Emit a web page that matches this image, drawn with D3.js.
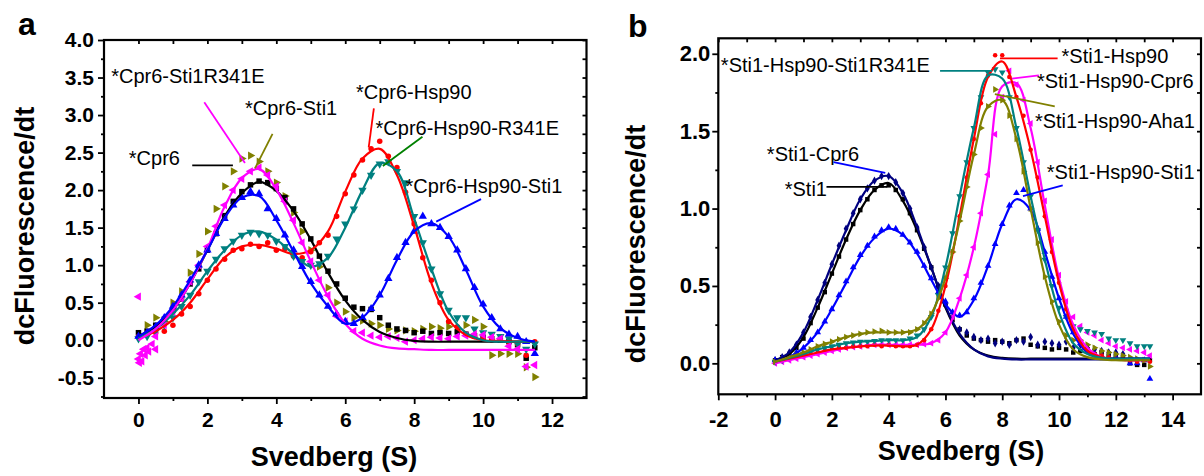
<!DOCTYPE html>
<html lang="en">
<head>
<meta charset="UTF-8">
<title>Sedimentation profiles</title>
<script src="https://d3js.org/d3.v7.min.js"></script>
<style>
  body { margin: 0; background: #fff; }
  svg text { font-family: Arial, "Liberation Sans", sans-serif; fill: #000; }
</style>
</head>
<body>
<svg id="chart" width="1204" height="476"></svg>
<script>
// ---------- panel a: Cpr6 complexes ----------
const aFitX = [0, 0.5, 1, 1.5, 2, 2.5, 3, 3.5, 4, 4.5, 5, 5.5, 6, 6.5, 7, 7.5, 8, 8.5, 9, 9.5, 10, 10.5, 11, 11.5];
const aPtX = [0, 0.25, 0.5, 0.75, 1, 1.25, 1.5, 1.75, 2, 2.25, 2.5, 2.75, 3, 3.25, 3.5, 3.75, 4, 4.25, 4.5, 4.75,
              5, 5.25, 5.5, 5.75, 6, 6.25, 6.5, 6.75, 7, 7.25, 7.5, 7.75, 8, 8.25, 8.5, 8.75, 9, 9.25, 9.5, 9.75,
              10, 10.25, 10.5, 10.75, 11, 11.25, 11.5];

const cpr6Fit = [0.05, 0.18, 0.40, 0.76, 1.20, 1.65, 1.96, 2.11, 1.99, 1.72, 1.34, 0.90, 0.53, 0.27, 0.11, 0.03, -0.01, -0.02, -0.02, -0.02, -0.02, -0.02, -0.02, -0.02];
const cpr6Sti1R341EFit = [0.00, 0.15, 0.40, 0.76, 1.22, 1.78, 2.16, 2.28, 2.01, 1.56, 1.05, 0.58, 0.22, 0.02, -0.07, -0.11, -0.12, -0.13, -0.13, -0.13, -0.13, -0.13, -0.13, -0.13];
const cpr6Hsp90Fit = [0.03, 0.12, 0.27, 0.50, 0.81, 1.10, 1.25, 1.27, 1.22, 1.15, 1.20, 1.45, 1.98, 2.42, 2.55, 2.20, 1.52, 0.76, 0.27, 0.07, 0.00, -0.01, -0.02, -0.02];
const cpr6Hsp90R341EFit = [0.03, 0.15, 0.35, 0.60, 0.92, 1.20, 1.40, 1.45, 1.34, 1.15, 0.98, 1.10, 1.50, 2.00, 2.36, 2.25, 1.62, 0.95, 0.38, 0.10, 0.00, -0.02, -0.02, -0.02];
const cpr6Hsp90Sti1Fit = [0.05, 0.20, 0.45, 0.80, 1.20, 1.63, 1.90, 1.92, 1.60, 1.18, 0.76, 0.45, 0.22, 0.30, 0.60, 1.07, 1.45, 1.56, 1.38, 0.94, 0.45, 0.16, 0.03, -0.02];

const cpr6Pts = [0.10, 0.12, 0.20, 0.28, 0.40, 0.55, 0.75, 0.95, 1.20, 1.42, 1.66, 1.85, 1.98, 2.07, 2.12, 2.10, 2.02, 1.90, 1.75, 1.55,
                 1.35, 1.12, 0.92, 0.75, 0.56, 0.44, 0.42, 0.41, 0.30, 0.20, 0.15, 0.13, 0.10, 0.12, 0.09, 0.10, 0.09, 0.11, 0.08, 0.06,
                 0.04, 0.02, 0.00, -0.02, -0.06, -0.24, -0.10];
const cpr6Sti1Pts = [0.08, 0.20, 0.30, 0.25, 0.50, 0.65, 0.90, 1.15, 1.45, 1.75, 2.05, 2.25, 2.42, 2.46, 2.38, 2.25, 2.10, 1.92, 1.70, 1.45,
                     1.20, 0.98, 0.70, 0.50, 0.38, 0.30, 0.26, 0.22, 0.20, 0.15, 0.13, 0.13, 0.12, 0.15, 0.18, 0.16, 0.18, 0.15, 0.20, 0.27,
                     0.18, -0.20, -0.18, -0.18, -0.18, -0.36, -0.49];
const cpr6Sti1R341EPts = [-0.25, -0.10, 0.05, 0.20, 0.38, 0.55, 0.78, 1.00, 1.25, 1.52, 1.80, 2.00, 2.15, 2.25, 2.30, 2.20, 2.05, 1.85, 1.60, 1.30,
                          1.05, 0.80, 0.60, 0.32, 0.25, 0.12, 0.10, 0.06, 0.04, 0.05, 0.03, -0.02, 0.00, 0.02, 0.04, 0.03, 0.02, 0.05, 0.06, 0.08,
                          0.07, 0.04, 0.02, -0.08, -0.12, -0.35, -0.33];
const cpr6Sti1R341EStart = [[0, 0.58], [0.03, -0.30], [0.06, -0.18], [0.1, -0.28], [0.15, -0.12], [0.2, -0.2], [0.3, -0.15], [0.4, -0.05], [0.5, -0.12]];
const cpr6Hsp90Pts = [0.05, 0.08, 0.10, 0.12, 0.20, 0.35, 0.45, 0.62, 0.80, 0.95, 1.08, 1.20, 1.22, 1.28, 1.25, 1.30, 1.20, 1.22, 1.12, 1.10,
                      1.18, 1.30, 1.40, 1.65, 1.95, 2.20, 2.40, 2.55, 2.65, 2.45, 2.30, 1.97, 1.55, 1.10, 0.80, 0.50, 0.25, 0.18, 0.08, 0.05,
                      0.02, 0.00, 0.00, -0.02, -0.05, -0.20, -0.02];
const cpr6Hsp90R341EPts = [0.02, 0.05, 0.12, 0.20, 0.30, 0.45, 0.60, 0.78, 0.92, 1.08, 1.22, 1.32, 1.40, 1.44, 1.42, 1.40, 1.32, 1.25, 1.12, 1.05,
                           1.00, 1.02, 1.12, 1.35, 1.55, 1.75, 2.00, 2.20, 2.35, 2.38, 2.25, 2.10, 1.65, 1.30, 0.95, 0.62, 0.40, 0.30, 0.30, 0.15,
                           0.10, 0.08, 0.05, 0.02, -0.05, -0.12, -0.05];
const cpr6Hsp90Sti1Pts = [0.05, 0.10, 0.18, 0.30, 0.45, 0.60, 0.80, 1.00, 1.20, 1.42, 1.62, 1.80, 1.90, 1.98, 1.95, 1.75, 1.62, 1.40, 1.20, 0.98,
                          0.78, 0.60, 0.45, 0.35, 0.25, 0.22, 0.30, 0.42, 0.60, 0.82, 1.10, 1.30, 1.45, 1.65, 1.55, 1.50, 1.38, 1.20, 0.95, 0.70,
                          0.48, 0.30, 0.15, 0.08, 0.05, -0.02, -0.18];

const aXTicks = [0, 2, 4, 6, 8, 10, 12];
const aXMinor = [1, 3, 5, 7, 9, 11];
const aYTicks = [-0.5, 0, 0.5, 1, 1.5, 2, 2.5, 3, 3.5, 4];
const aYMinor = [-0.75, -0.25, 0.25, 0.75, 1.25, 1.75, 2.25, 2.75, 3.25, 3.75];

// ---------- panel b: Sti1 complexes ----------
const bFitX = [0, 0.5, 1, 1.5, 2, 2.5, 3, 3.5, 4, 4.5, 5, 5.5, 6, 6.5, 7, 7.5, 8, 8.5, 9, 9.5, 10, 10.5, 11, 11.5, 12, 12.5, 13, 13.2];
const bPtX = [0, 0.25, 0.5, 0.75, 1, 1.25, 1.5, 1.75, 2, 2.25, 2.5, 2.75, 3, 3.25, 3.5, 3.75, 4, 4.25, 4.5, 4.75,
              5, 5.25, 5.5, 5.75, 6, 6.25, 6.5, 6.75, 7, 7.25, 7.5, 7.75, 8, 8.25, 8.5, 8.75, 9, 9.25, 9.5, 9.75,
              10, 10.25, 10.5, 10.75, 11, 11.25, 11.5, 11.75, 12, 12.25, 12.5, 12.75, 13, 13.2];

const sti1Fit = [0.02, 0.06, 0.17, 0.36, 0.58, 0.80, 0.99, 1.12, 1.165, 1.05, 0.86, 0.62, 0.36, 0.18, 0.09, 0.05, 0.035, 0.03, 0.03, 0.03, 0.03, 0.03, 0.03, 0.03, 0.03, 0.03, 0.03, 0.03];
const sti1Cpr6Fit = [0.02, 0.07, 0.20, 0.41, 0.64, 0.86, 1.06, 1.18, 1.21, 1.10, 0.88, 0.62, 0.37, 0.19, 0.09, 0.045, 0.03, 0.025, 0.025, 0.025, 0.025, 0.025, 0.025, 0.025, 0.025, 0.025, 0.025, 0.025];
const sti1Hsp90Fit = [0.01, 0.03, 0.05, 0.07, 0.09, 0.10, 0.11, 0.115, 0.115, 0.11, 0.12, 0.22, 0.50, 0.95, 1.45, 1.85, 1.95, 1.72, 1.38, 0.95, 0.52, 0.22, 0.08, 0.04, 0.025, 0.02, 0.02, 0.02];
const sti1Hsp90R341EFit = [0.01, 0.035, 0.06, 0.09, 0.11, 0.13, 0.14, 0.145, 0.15, 0.15, 0.17, 0.30, 0.62, 1.08, 1.52, 1.86, 1.84, 1.52, 1.08, 0.67, 0.33, 0.13, 0.06, 0.035, 0.03, 0.03, 0.03, 0.03];
const sti1Hsp90Aha1Fit = [0.01, 0.04, 0.07, 0.11, 0.14, 0.17, 0.19, 0.20, 0.20, 0.20, 0.22, 0.32, 0.55, 0.92, 1.35, 1.66, 1.70, 1.45, 1.00, 0.56, 0.25, 0.09, 0.04, 0.025, 0.02, 0.02, 0.02, 0.02];
const sti1Hsp90Cpr6Fit = [0.00, 0.02, 0.04, 0.06, 0.08, 0.10, 0.11, 0.12, 0.12, 0.12, 0.12, 0.13, 0.20, 0.42, 0.75, 1.22, 1.79, 1.81, 1.52, 1.02, 0.55, 0.25, 0.10, 0.04, 0.025, 0.02, 0.02, 0.02];
const sti1Hsp90Sti1Fit = [0.01, 0.04, 0.10, 0.20, 0.35, 0.52, 0.69, 0.81, 0.87, 0.83, 0.71, 0.54, 0.38, 0.30, 0.41, 0.63, 0.90, 1.06, 0.99, 0.72, 0.42, 0.19, 0.07, 0.035, 0.03, 0.03, 0.03, 0.03];

const sti1Pts = [0.02, 0.04, 0.06, 0.10, 0.16, 0.26, 0.36, 0.46, 0.58, 0.69, 0.80, 0.90, 0.99, 1.06, 1.12, 1.15, 1.15, 1.12, 1.06, 0.97,
                 0.86, 0.74, 0.62, 0.50, 0.38, 0.28, 0.22, 0.18, 0.16, 0.15, 0.14, 0.15, 0.14, 0.13, 0.15, 0.16, 0.12, 0.11, 0.10, 0.09,
                 0.10, 0.09, 0.07, 0.08, 0.09, 0.06, 0.07, 0.05, 0.05, 0.04, 0.00, -0.01, -0.01, 0.02];
const sti1Cpr6Pts = [0.02, 0.04, 0.07, 0.12, 0.20, 0.30, 0.41, 0.52, 0.64, 0.76, 0.87, 0.97, 1.06, 1.13, 1.18, 1.21, 1.21, 1.17, 1.10, 1.00,
                     0.88, 0.75, 0.62, 0.50, 0.38, 0.30, 0.22, 0.20, 0.17, 0.15, 0.16, 0.13, 0.14, 0.12, 0.15, 0.14, 0.17, 0.12, 0.14, 0.13,
                     0.12, 0.14, 0.10, 0.12, 0.10, 0.09, 0.08, 0.07, 0.07, 0.06, null, null, null, null];
const sti1Hsp90Pts = [0.01, 0.02, 0.03, 0.04, 0.05, 0.06, 0.07, 0.08, 0.09, 0.10, 0.10, 0.11, 0.11, 0.11, 0.12, 0.11, 0.12, 0.11, 0.11, 0.11,
                      0.12, 0.15, 0.22, 0.34, 0.50, 0.72, 0.95, 1.20, 1.45, 1.68, 1.86, 1.99, 1.99, 1.85, 1.72, 1.60, 1.38, 1.20, 0.95, 0.72,
                      0.52, 0.35, 0.22, 0.14, 0.09, 0.06, 0.05, 0.04, 0.03, 0.03, 0.02, 0.01, 0.02, 0.01];
const sti1Hsp90R341EPts = [0.01, 0.02, 0.035, 0.05, 0.06, 0.075, 0.09, 0.10, 0.11, 0.12, 0.13, 0.135, 0.14, 0.14, 0.145, 0.15, 0.15, 0.15, 0.15, 0.16,
                           0.18, 0.22, 0.30, 0.44, 0.62, 0.84, 1.08, 1.30, 1.52, 1.72, 1.88, 1.90, 1.88, 1.72, 1.52, 1.30, 1.08, 0.86, 0.67, 0.50,
                           0.36, 0.30, 0.24, 0.22, 0.21, 0.20, 0.19, 0.16, 0.15, 0.15, 0.13, 0.11, 0.11, 0.11];
const sti1Hsp90Aha1Pts = [0.01, 0.025, 0.04, 0.055, 0.07, 0.09, 0.11, 0.125, 0.14, 0.155, 0.17, 0.18, 0.19, 0.20, 0.205, 0.21, 0.20, 0.20, 0.20, 0.20,
                          0.22, 0.26, 0.32, 0.42, 0.55, 0.72, 0.92, 1.14, 1.35, 1.52, 1.66, 1.77, 1.70, 1.60, 1.45, 1.24, 1.00, 0.78, 0.56, 0.40,
                          0.27, 0.18, 0.15, 0.15, 0.12, 0.10, 0.08, 0.07, 0.06, 0.05, 0.04, 0.03, 0.02, -0.02];
const sti1Hsp90Cpr6Pts = [0.00, 0.01, 0.02, 0.03, 0.04, 0.05, 0.06, 0.07, 0.08, 0.09, 0.10, 0.105, 0.11, 0.115, 0.12, 0.12, 0.12, 0.12, 0.12, 0.12,
                          0.12, 0.125, 0.13, 0.15, 0.20, 0.30, 0.42, 0.57, 0.75, 0.97, 1.22, 1.48, 1.72, 1.89, 1.80, 1.70, 1.55, 1.30, 1.05, 0.80,
                          0.57, 0.40, 0.30, 0.24, 0.20, 0.18, 0.15, 0.13, 0.11, 0.10, 0.09, 0.08, 0.07, 0.05];
const sti1Hsp90Sti1Pts = [0.02, 0.03, 0.05, 0.07, 0.10, 0.15, 0.20, 0.27, 0.35, 0.44, 0.53, 0.62, 0.70, 0.76, 0.82, 0.86, 0.88, 0.87, 0.83, 0.78,
                          0.72, 0.63, 0.55, 0.46, 0.40, 0.33, 0.31, 0.33, 0.42, 0.52, 0.63, 0.77, 0.90, 1.02, 1.10, 1.12, 1.00, 0.87, 0.72, 0.56,
                          0.42, 0.30, 0.20, 0.13, 0.08, 0.06, 0.05, 0.04, 0.04, 0.03, 0.00, 0.00, 0.02, -0.10];

const bXTicks = [-2, 0, 2, 4, 6, 8, 10, 12, 14];
const bXMinor = [-1, 1, 3, 5, 7, 9, 11, 13];
const bYTicks = [0, 0.5, 1, 1.5, 2];
const bYMinor = [0.25, 0.75, 1.25, 1.75];

// colours as in the original figure
const C = {
  black: "#000000", red: "#ff0000", blue: "#0000ff", navy: "#000080",
  teal: "#008080", magenta: "#ff00ff", olive: "#808000", green: "#008000"
};

const svg = d3.select("#chart");
svg.append("rect").attr("width", 1204).attr("height", 476).attr("fill", "#fff");

function drawPanel(p) {
  const x = d3.scaleLinear().domain(p.xDomain).range([p.left, p.right]);
  const y = d3.scaleLinear().domain(p.yDomain).range([p.bottom, p.top]);
  const g = svg.append("g");

  // scatter first, fitted lines on top
  p.series.forEach(s => {
    let pts = s.pts.map((v, i) => [p.ptX[i], v]).filter(d => d[1] !== null);
    if (s.extra) pts = pts.concat(s.extra);
    g.append("g").selectAll("path").data(pts).join("path")
      .attr("transform", d => `translate(${x(d[0])},${y(d[1])}) rotate(${s.rot || 0})`)
      .attr("d", d3.symbol().type(s.symbol).size(s.symbol === d3.symbolCircle ? p.markerSize * 0.8 : p.markerSize))
      .attr("fill", s.color);
  });

  const line = d3.line()
    .x((d, i) => x(p.fitX[i]))
    .y(d => y(d))
    .curve(d3.curveCatmullRom.alpha(0.5));

  p.series.filter(s => s.fit).forEach(s => {
    g.append("path").datum(s.fit)
      .attr("d", line)
      .attr("fill", "none")
      .attr("stroke", s.color)
      .attr("stroke-width", 2.2);
  });

  // frame + ticks (left/bottom outward, top/right inward)
  const styleAxis = sel => {
    sel.select(".domain").remove();
    sel.selectAll("line").attr("stroke", "#000").attr("stroke-width", 1.8);
  };
  const bot = g.append("g").attr("transform", `translate(0,${p.bottom})`)
    .call(d3.axisBottom(x).tickValues(p.xTicks).tickSize(6).tickSizeOuter(0).tickFormat(d => String(d)))
    .call(styleAxis);
  bot.selectAll("text").attr("dy", null).attr("y", p.xLabelBase - p.bottom)
    .attr("font-size", p.tickFont).attr("font-weight", "bold").attr("font-family", null);
  g.append("g").attr("transform", `translate(0,${p.bottom})`)
    .call(d3.axisBottom(x).tickValues(p.xMinor).tickSize(3).tickSizeOuter(0).tickFormat(""))
    .call(styleAxis);

  const lft = g.append("g").attr("transform", `translate(${p.left},0)`)
    .call(d3.axisLeft(y).tickValues(p.yTicks).tickSize(6).tickPadding(p.yPad).tickSizeOuter(0).tickFormat(d => d.toFixed(1)))
    .call(styleAxis);
  lft.selectAll("text").attr("font-size", p.tickFont).attr("font-weight", "bold").attr("font-family", null);
  g.append("g").attr("transform", `translate(${p.left},0)`)
    .call(d3.axisLeft(y).tickValues(p.yMinor).tickSize(3).tickSizeOuter(0).tickFormat(""))
    .call(styleAxis);

  g.append("g").attr("transform", `translate(0,${p.top})`)
    .call(d3.axisTop(x).tickValues(p.xTicks.concat(p.xMinor)).tickSize(-4).tickSizeOuter(0).tickFormat(""))
    .call(styleAxis);
  g.append("g").attr("transform", `translate(${p.right},0)`)
    .call(d3.axisRight(y).tickValues(p.yTicks.concat(p.yMinor)).tickSize(-4).tickSizeOuter(0).tickFormat(""))
    .call(styleAxis);

  g.append("rect")
    .attr("x", p.left).attr("y", p.top)
    .attr("width", p.right - p.left).attr("height", p.bottom - p.top)
    .attr("fill", "none").attr("stroke", "#000").attr("stroke-width", 2.2);

  // annotations with leader lines
  p.notes.forEach(n => {
    g.append("line")
      .attr("x1", x(n.from[0])).attr("y1", y(n.from[1]))
      .attr("x2", x(n.to[0])).attr("y2", y(n.to[1]))
      .attr("stroke", n.color).attr("stroke-width", 1.8);
    g.append("text")
      .attr("x", x(n.at[0])).attr("y", y(n.at[1]))
      .attr("font-size", 20)
      .text(n.text);
  });

  // axis titles and panel letter
  g.append("text")
    .attr("x", p.xTitle[0]).attr("y", p.xTitle[1])
    .attr("text-anchor", "middle").attr("font-size", 27).attr("font-weight", "bold")
    .text("Svedberg (S)");
  g.append("text")
    .attr("transform", `translate(${p.yTitle[0]},${p.yTitle[1]}) rotate(-90)`)
    .attr("text-anchor", "middle").attr("font-size", 27).attr("font-weight", "bold")
    .text("dcFluorescence/dt");
  g.append("text")
    .attr("x", p.letter[0]).attr("y", p.letter[1])
    .attr("font-size", 32).attr("font-weight", "bold")
    .text(p.letterText);
}

const tri = d3.symbolTriangle;

drawPanel({
  left: 104, right: 586.5, top: 40, bottom: 398,
  xDomain: [-1, 13], yDomain: [-0.77, 4.0],
  xTicks: aXTicks, xMinor: aXMinor, yTicks: aYTicks, yMinor: aYMinor,
  tickFont: 21, yPad: 4, xLabelBase: 427,
  fitX: aFitX, ptX: aPtX, markerSize: 30,
  series: [
    { color: C.olive, symbol: tri, rot: 90, pts: cpr6Sti1Pts },
    { color: C.black, symbol: d3.symbolSquare, pts: cpr6Pts, fit: cpr6Fit },
    { color: C.red, symbol: d3.symbolCircle, pts: cpr6Hsp90Pts, fit: cpr6Hsp90Fit },
    { color: C.teal, symbol: tri, rot: 180, pts: cpr6Hsp90R341EPts, fit: cpr6Hsp90R341EFit },
    { color: C.magenta, symbol: tri, rot: -90, pts: cpr6Sti1R341EPts, extra: cpr6Sti1R341EStart, fit: cpr6Sti1R341EFit },
    { color: C.blue, symbol: tri, pts: cpr6Hsp90Sti1Pts, fit: cpr6Hsp90Sti1Fit }
  ],
  notes: [
    { text: "*Cpr6-Sti1R341E", at: [-0.79, 3.43], from: [1.91, 3.17], to: [3.09, 2.36], color: C.magenta },
    { text: "*Cpr6-Sti1", at: [3.09, 3.0], from: [3.89, 2.75], to: [3.38, 2.29], color: C.olive },
    { text: "*Cpr6", at: [-0.28, 2.33], from: [1.56, 2.33], to: [2.74, 2.33], color: C.black },
    { text: "*Cpr6-Hsp90", at: [6.31, 3.21], from: [6.83, 3.09], to: [6.68, 2.57], color: C.red },
    { text: "*Cpr6-Hsp90-R341E", at: [6.88, 2.73], from: [8.24, 2.71], to: [7.09, 2.32], color: C.green },
    { text: "*Cpr6-Hsp90-Sti1", at: [7.75, 1.96], from: [9.94, 1.88], to: [8.64, 1.58], color: C.blue }
  ],
  xTitle: [334, 466], yTitle: [34, 226], letter: [18, 35], letterText: "a"
});

drawPanel({
  left: 718.3, right: 1201, top: 38.3, bottom: 394.3,
  xDomain: [-2, 15], yDomain: [-0.2, 2.1],
  xTicks: bXTicks, xMinor: bXMinor, yTicks: bYTicks, yMinor: bYMinor,
  tickFont: 22, yPad: 2, xLabelBase: 427,
  fitX: bFitX, ptX: bPtX, markerSize: 20,
  series: [
    { color: C.black, symbol: d3.symbolSquare, pts: sti1Pts, fit: sti1Fit },
    { color: C.navy, symbol: d3.symbolDiamond, pts: sti1Cpr6Pts, fit: sti1Cpr6Fit },
    { color: C.blue, symbol: tri, pts: sti1Hsp90Sti1Pts, fit: sti1Hsp90Sti1Fit },
    { color: C.magenta, symbol: tri, rot: -90, pts: sti1Hsp90Cpr6Pts, fit: sti1Hsp90Cpr6Fit },
    { color: C.red, symbol: d3.symbolCircle, pts: sti1Hsp90Pts, fit: sti1Hsp90Fit },
    { color: C.teal, symbol: tri, rot: 180, pts: sti1Hsp90R341EPts, fit: sti1Hsp90R341EFit },
    { color: C.olive, symbol: tri, rot: 90, pts: sti1Hsp90Aha1Pts, fit: sti1Hsp90Aha1Fit }
  ],
  notes: [
    { text: "*Sti1-Hsp90-Sti1R341E", at: [-1.91, 1.88], from: [5.81, 1.89], to: [7.64, 1.89], color: C.teal },
    { text: "*Sti1-Hsp90", at: [10.09, 1.94], from: [7.92, 1.97], to: [9.95, 1.97], color: C.red },
    { text: "*Sti1-Hsp90-Cpr6", at: [9.22, 1.78], from: [8.34, 1.84], to: [9.29, 1.86], color: C.magenta },
    { text: "*Sti1-Hsp90-Aha1", at: [9.15, 1.52], from: [7.74, 1.74], to: [9.85, 1.66], color: C.olive },
    { text: "*Sti1-Hsp90-Sti1", at: [9.57, 1.19], from: [10.13, 1.15], to: [8.73, 1.08], color: C.blue },
    { text: "*Sti1-Cpr6", at: [-0.29, 1.31], from: [2.06, 1.30], to: [3.88, 1.23], color: C.blue },
    { text: "*Sti1", at: [0.34, 1.08], from: [1.81, 1.14], to: [3.95, 1.14], color: C.black }
  ],
  xTitle: [961, 460], yTitle: [645, 244], letter: [628, 37], letterText: "b"
});
</script>
</body>
</html>
